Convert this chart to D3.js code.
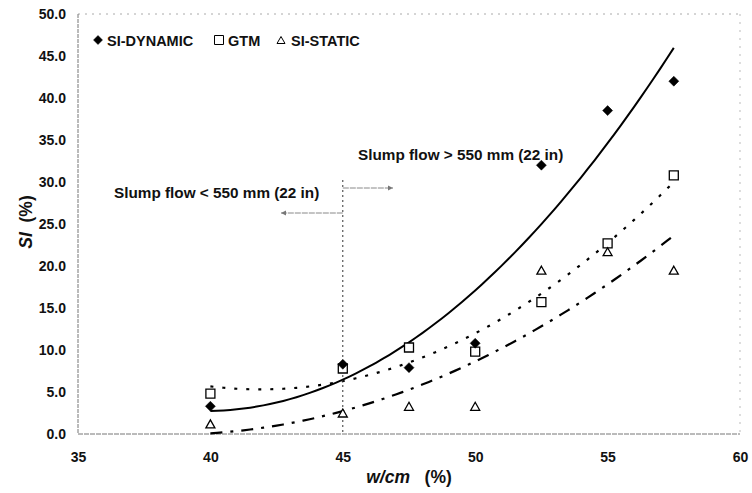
<!DOCTYPE html>
<html><head><meta charset="utf-8">
<script src="https://cdn.jsdelivr.net/npm/d3@7"></script>
<style>body{margin:0;background:#fff;} text{font-family:"Liberation Sans",Arial,sans-serif;}</style>
</head><body>
<svg id="c" width="752" height="493"></svg>
<script>
const wcm = [40, 45, 47.5, 50, 52.5, 55, 57.5];
const siDynamic = [3.3, 8.3, 7.9, 10.8, 32.0, 38.5, 42.0];
const gtm = [4.8, 7.8, 10.3, 9.8, 15.7, 22.7, 30.8];
const siStatic = [1.2, 2.5, 3.3, 3.3, 19.5, 21.7, 19.5];
const xTicks = [35, 40, 45, 50, 55, 60];
const yTicks = [0, 5, 10, 15, 20, 25, 30, 35, 40, 45, 50];
const seriesNames = ["SI-DYNAMIC", "GTM", "SI-STATIC"];

const svg = d3.select("#c");
const x = d3.scaleLinear().domain([35, 60]).range([78, 740]);
const y = d3.scaleLinear().domain([0, 50]).range([434, 14]);

// frame
svg.append("line").attr("x1",78).attr("x2",740).attr("y1",14).attr("y2",14).attr("stroke","#aaa").attr("stroke-dasharray","2,5");
svg.append("line").attr("x1",740).attr("x2",740).attr("y1",14).attr("y2",434).attr("stroke","#bbb").attr("stroke-dasharray","2,6");
svg.append("line").attr("x1",78).attr("x2",78).attr("y1",14).attr("y2",434).attr("stroke","#777").attr("stroke-dasharray","4,1");
svg.append("line").attr("x1",78).attr("x2",740).attr("y1",434).attr("y2",434).attr("stroke","#777").attr("stroke-dasharray","5,1");

// axes labels
const xAxis = d3.axisBottom(x).tickValues(xTicks).tickSize(0).tickPadding(18).tickFormat(d3.format("d"));
const gx = svg.append("g").attr("transform","translate(0,434)").call(xAxis);
gx.select(".domain").remove();
gx.selectAll("text").attr("font-size",14).attr("font-weight","bold").attr("fill","#111").attr("dy","0.71em");
const yAxis = d3.axisLeft(y).tickValues(yTicks).tickSize(0).tickPadding(12).tickFormat(d3.format(".1f"));
const gy = svg.append("g").attr("transform","translate(78,0)").call(yAxis);
gy.select(".domain").remove();
gy.selectAll("text").attr("font-size",14).attr("font-weight","bold").attr("fill","#111");

// axis titles
const xt = svg.append("text").attr("x",409).attr("y",483).attr("text-anchor","middle").attr("font-size",17.5).attr("font-weight","bold").attr("fill","#111");
xt.append("tspan").attr("font-style","italic").text("w/cm");
xt.append("tspan").text("\u00a0\u00a0\u00a0(%)");
const yt = svg.append("text").attr("transform","translate(32,222) rotate(-90)").attr("text-anchor","middle").attr("font-size",17.5).attr("font-weight","bold").attr("fill","#111");
yt.append("tspan").attr("font-style","italic").text("SI");
yt.append("tspan").text("\u00a0\u00a0(%)");

// quadratic least-squares trendlines from data
function quadFit(xs, ys) {
  const n = xs.length; let S=[0,0,0,0,0], T=[0,0,0];
  for (let i=0;i<n;i++){ const u=xs[i]; for(let k=0;k<5;k++) S[k]+=Math.pow(u,k); for(let k=0;k<3;k++) T[k]+=ys[i]*Math.pow(u,k); }
  const A=[[S[0],S[1],S[2],T[0]],[S[1],S[2],S[3],T[1]],[S[2],S[3],S[4],T[2]]];
  for(let i=0;i<3;i++){ for(let j=i+1;j<3;j++){ const f=A[j][i]/A[i][i]; for(let k=i;k<4;k++) A[j][k]-=f*A[i][k]; } }
  const c=[0,0,0];
  for(let i=2;i>=0;i--){ let s=A[i][3]; for(let k=i+1;k<3;k++) s-=A[i][k]*c[k]; c[i]=s/A[i][i]; }
  return u => c[0]+c[1]*u+c[2]*u*u;
}
const line = d3.line().x(d=>x(d[0])).y(d=>y(d[1]));
function trend(vals, dash, width) {
  const f = quadFit(wcm.map(v=>v-40), vals);
  const pts = d3.range(0, 17.5001, 0.25).map(u => [40+u, f(u)]);
  svg.append("path").attr("d", line(pts)).attr("fill","none").attr("stroke","#000").attr("stroke-width",width).attr("stroke-dasharray",dash);
}
trend(siDynamic, null, 2);
trend(gtm, "3,9", 2.2);
trend(siStatic, "12,8,3,8", 2.2);

// annotation
svg.append("line").attr("x1",x(45)).attr("x2",x(45)).attr("y1",180).attr("y2",434).attr("stroke","#333").attr("stroke-dasharray","2,3").attr("stroke-width",1);
svg.append("line").attr("x1",x(45)).attr("x2",393).attr("y1",188).attr("y2",188).attr("stroke","#888").attr("stroke-width",1).attr("stroke-dasharray","6,1");
svg.append("path").attr("d","M393,188 l-5,-2.5 v5 z").attr("fill","#777");
svg.append("line").attr("x1",x(45)).attr("x2",281).attr("y1",213).attr("y2",213).attr("stroke","#888").attr("stroke-width",1).attr("stroke-dasharray","6,1");
svg.append("path").attr("d","M281,213 l5,-2.5 v5 z").attr("fill","#777");
svg.append("text").attr("x",358).attr("y",160).attr("font-size",15.3).attr("font-weight","bold").attr("fill","#111").text("Slump flow > 550 mm (22 in)");
svg.append("text").attr("x",114).attr("y",198).attr("font-size",15.3).attr("font-weight","bold").attr("fill","#111").text("Slump flow < 550 mm (22 in)");

// markers
function diamond(w, h) { return `M0,${-h/2}L${w/2},0L0,${h/2}L${-w/2},0Z`; }
function square(s) { return `M${-s/2},${-s/2}h${s}v${s}h${-s}Z`; }
function triangle(w, h) { return `M0,${-h/2}L${w/2},${h/2}L${-w/2},${h/2}Z`; }
const sym = { diamond: diamond(10, 10), square: square(9), triangle: triangle(9, 8) };
function points(vals, s, filled) {
  svg.append("g").selectAll("path").data(vals).join("path")
    .attr("transform",(d,i)=>`translate(${x(wcm[i])},${y(d)})`)
    .attr("d", s)
    .attr("fill", filled ? "#000" : "#fff").attr("stroke","#000").attr("stroke-width", filled?0.5:1.3);
}
points(gtm, sym.square, false);
points(siStatic, sym.triangle, false);
points(siDynamic, sym.diamond, true);

// legend
const legSyms = [diamond(9, 9), square(9), triangle(8, 7)];
const legFill = [true, false, false];
const legX = [98, 219, 281];
const legTx = [107, 228, 291];
seriesNames.forEach((n,i)=>{
  svg.append("path").attr("transform",`translate(${legX[i]},40)`).attr("d", legSyms[i])
    .attr("fill", legFill[i]?"#000":"#fff").attr("stroke","#000").attr("stroke-width", legFill[i]?0.5:1);
  svg.append("text").attr("x",legTx[i]).attr("y",45.5).attr("font-size",14.5).attr("font-weight","bold").attr("fill","#111").text(n);
});
</script>
</body></html>
